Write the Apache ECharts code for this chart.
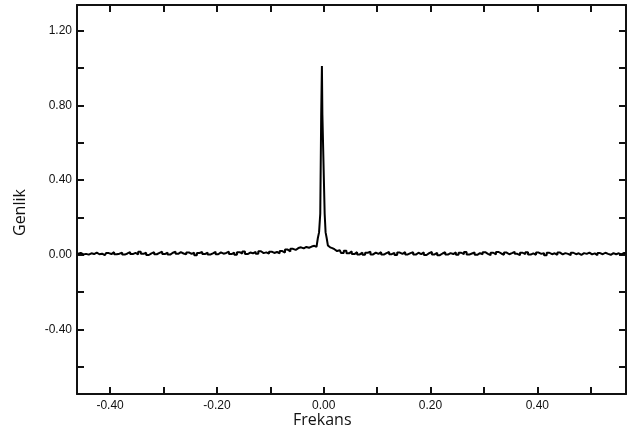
<!DOCTYPE html>
<html>
<head>
<meta charset="utf-8">
<script src="https://cdn.jsdelivr.net/npm/echarts@6/dist/echarts.min.js"></script>
<style>
  html, body { margin: 0; padding: 0; background: #fff; }
  #main { width: 627px; height: 443px; }
</style>
</head>
<body>
<div id="main"></div>
<script>
// noise floor left of the peak, -0.46 .. -0.045, step 0.005
var leftStart = -0.46;
var leftAmp = [0.006,0.010,0.002,0.005,0.001,0.008,0.004,0.012,0.003,0.006,
  -0.002,0.009,0.004,0.014,0.003,0.006,0.012,0.001,0.007,0.015,
  0.004,0.010,0.002,0.016,0.005,0.011,-0.001,0.008,0.014,0.003,
  0.010,0.017,0.004,0.012,0.001,0.011,0.016,0.005,0.014,0.007,
  0.002,0.013,0.005,0.011,-0.002,0.010,0.015,0.004,0.012,0.001,
  0.008,0.016,0.003,0.013,0.006,0.010,0.017,0.004,0.012,0.000,
  0.014,0.007,0.018,0.004,0.012,0.008,0.016,0.005,0.019,0.009,
  0.013,0.006,0.017,0.010,0.015,0.008,0.020,0.012,0.028,0.018,
  0.032,0.026,0.036,0.040];

// peak region around zero
var peakFreq = [-0.040,-0.035,-0.030,-0.025,-0.020,-0.015,-0.012,-0.010,-0.0075,-0.0055,-0.004,-0.0028,-0.0022,-0.001,0.000,0.001,0.0025,0.0045,0.0065,0.009,0.012,0.016,0.020,0.025];
var peakAmp  = [0.034,0.042,0.038,0.044,0.048,0.042,0.050,0.090,0.120,0.220,0.750,1.010,0.750,0.750,0.740,0.740,0.220,0.120,0.090,0.050,0.040,0.036,0.030,0.020];

// noise floor right of the peak, 0.03 .. 0.565, step 0.005
var rightStart = 0.03;
var rightAmp = [0.024,0.010,0.022,0.008,0.018,0.004,0.014,0.002,0.012,0.000,
  0.011,0.016,0.002,0.012,0.005,0.014,0.001,0.009,0.015,0.003,
  0.011,-0.001,0.012,0.005,0.015,0.002,0.009,0.014,0.001,0.011,
  0.004,0.013,-0.001,0.009,0.015,0.002,0.011,-0.002,0.007,0.014,
  0.001,0.009,0.004,0.013,0.000,0.011,0.003,0.015,0.001,0.007,
  0.012,0.000,0.009,0.003,0.014,0.005,-0.002,0.011,0.002,0.015,
  0.007,0.000,0.012,0.003,0.009,0.016,0.005,-0.002,0.011,0.003,
  0.014,0.001,0.008,0.000,0.012,0.005,0.009,-0.002,0.011,0.003,
  0.008,0.000,0.012,0.002,0.009,0.005,-0.002,0.011,0.003,0.008,
  0.000,0.009,0.005,0.012,0.002,0.008,-0.002,0.009,0.003,0.011,
  0.005,0.000,0.009,0.003,0.008,0.002,0.010,0.005];
var step = 0.005;

var xTicks = [-0.4,-0.3,-0.2,-0.1,0,0.1,0.2,0.3,0.4,0.5];
var xLabels = [-0.4,-0.2,0,0.2,0.4];
var yTicks = [-0.6,-0.4,-0.2,0,0.2,0.4,0.6,0.8,1.0,1.2];
var yLabels = [-0.4,0,0.4,0.8,1.2];

var series = [];
for (var i = 0; i < leftAmp.length; i++) series.push([+(leftStart + i * step).toFixed(4), leftAmp[i]]);
for (var j = 0; j < peakAmp.length; j++) series.push([peakFreq[j], peakAmp[j]]);
for (var k = 0; k < rightAmp.length; k++) series.push([+(rightStart + k * step).toFixed(4), rightAmp[k]]);

var labelFont = { color: '#111', fontSize: 12, fontFamily: 'Liberation Sans' };
var lineStyle = { color: '#111', width: 2 };

function xAxis(pos, showLabel) {
  return {
    type: 'value', position: pos, min: -0.462, max: 0.566,
    axisLine: { show: true, onZero: false, lineStyle: lineStyle },
    axisTick: { show: true, inside: true, length: 7, customValues: xTicks, lineStyle: lineStyle },
    axisLabel: Object.assign({ show: showLabel, margin: 6, customValues: xLabels,
      formatter: function (v) { return v.toFixed(2); } }, labelFont),
    splitLine: { show: false }
  };
}
function yAxis(pos, showLabel) {
  return {
    type: 'value', position: pos, min: -0.745, max: 1.337,
    axisLine: { show: true, onZero: false, lineStyle: lineStyle },
    axisTick: { show: true, inside: true, length: 7, customValues: yTicks, lineStyle: lineStyle },
    axisLabel: Object.assign({ show: showLabel, margin: 5, customValues: yLabels,
      formatter: function (v) { return v.toFixed(2); } }, labelFont),
    splitLine: { show: false }
  };
}

var myChart = echarts.init(document.getElementById('main'));
var option = {
  animation: false,
  backgroundColor: '#fff',
  grid: { left: 77, top: 5, right: 1, bottom: 49 },
  xAxis: [xAxis('bottom', true), xAxis('top', false)],
  yAxis: [yAxis('left', true), yAxis('right', false)],
  graphic: [
    { type: 'text', left: 293, top: 412,
      style: { text: 'Frekans', fontSize: 16, fontFamily: 'Open Sans', fill: '#111' } },
    { type: 'text', x: 12, y: 236, rotation: Math.PI / 2,
      style: { text: 'Genlik', fontSize: 16, fontFamily: 'Open Sans', fill: '#111' } }
  ],
  series: [{
    type: 'line',
    data: series,
    step: 'middle',
    symbol: 'none',
    lineStyle: { color: '#000', width: 2 }
  }]
};
myChart.setOption(option);
</script>
</body>
</html>
